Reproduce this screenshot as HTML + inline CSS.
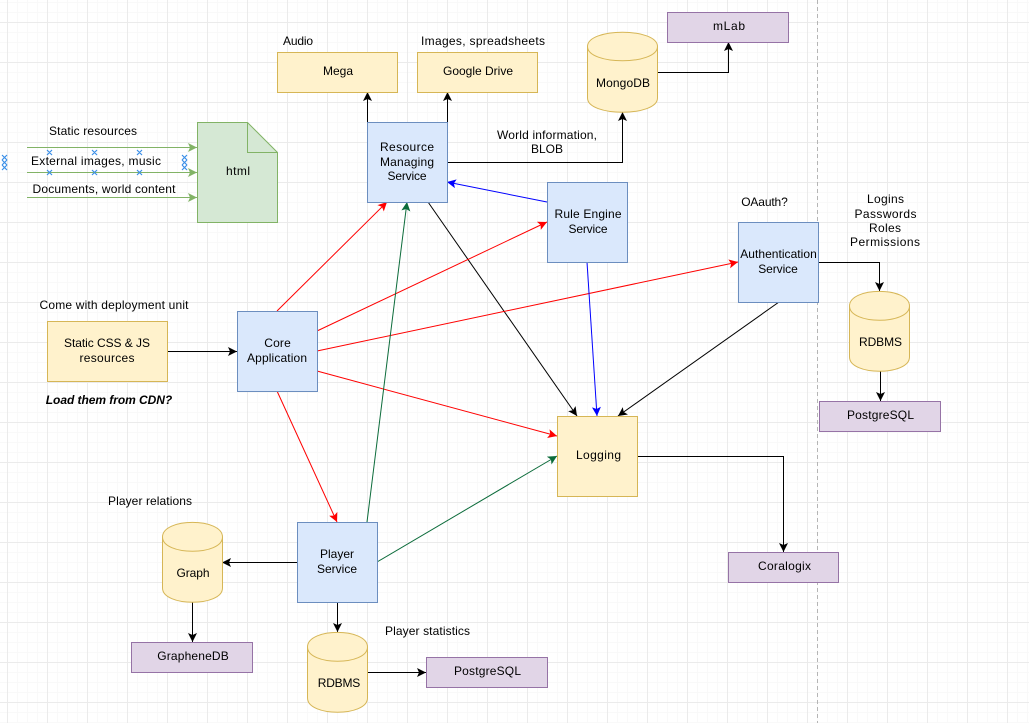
<!DOCTYPE html>
<html><head><meta charset="utf-8"><style>
html,body{margin:0;padding:0;background:#fff}
svg{display:block}
text{font-family:"Liberation Sans",sans-serif;font-size:12px;fill:#000;text-anchor:middle}
.l{stroke:#000;fill:none;stroke-width:1}
.y{fill:#fff2cc;stroke:#d6b656}
.b{fill:#dae8fc;stroke:#6c8ebf}
.p{fill:#e1d5e7;stroke:#9673a6}
.g{fill:#d5e8d4;stroke:#82b366}
</style></head><body>
<svg width="1029" height="723" viewBox="0 0 1029 723" xmlns="http://www.w3.org/2000/svg">
<defs>
<pattern id="min" width="10" height="10" patternUnits="userSpaceOnUse" x="7" y="2"><path d="M.5 0V10M0 .5H10" stroke="#f9f9f9" stroke-width="1" fill="none"/></pattern>
<pattern id="maj" width="40" height="40" patternUnits="userSpaceOnUse" x="7" y="22"><path d="M.5 0V40M0 .5H40" stroke="#ebebeb" stroke-width="1" fill="none"/></pattern>
<marker id="k" markerUnits="userSpaceOnUse" markerWidth="12" markerHeight="10" refX="9" refY="4.5" orient="auto"><path d="M0 0L9 4.5L0 9L2 4.5Z" fill="#000"/></marker>
<marker id="r" markerUnits="userSpaceOnUse" markerWidth="12" markerHeight="10" refX="9" refY="4.5" orient="auto"><path d="M0 0L9 4.5L0 9L2 4.5Z" fill="#f00"/></marker>
<marker id="u" markerUnits="userSpaceOnUse" markerWidth="12" markerHeight="10" refX="9" refY="4.5" orient="auto"><path d="M0 0L9 4.5L0 9L2 4.5Z" fill="#00f"/></marker>
<marker id="d" markerUnits="userSpaceOnUse" markerWidth="12" markerHeight="10" refX="9" refY="4.5" orient="auto"><path d="M0 0L9 4.5L0 9L2 4.5Z" fill="#0b6b3a"/></marker>
<marker id="n" markerUnits="userSpaceOnUse" markerWidth="12" markerHeight="10" refX="9" refY="4.5" orient="auto"><path d="M0 0L9 4.5L0 9L2 4.5Z" fill="#82b366"/></marker>
</defs>
<rect width="1029" height="723" fill="#fff"/>
<rect width="1029" height="723" fill="url(#min)"/>
<rect width="1029" height="723" fill="url(#maj)"/>
<path d="M817.5 0V723" stroke="#b5b5b5" stroke-dasharray="4 3" fill="none"/>

<!-- html doc -->
<g stroke="#82b366" stroke-width="1" fill="none">
<path d="M27 147.5H197" marker-end="url(#n)"/>
<path d="M27 172.5H197" marker-end="url(#n)"/>
<path d="M27 197.5H197" marker-end="url(#n)"/>
</g>
<path class="g" d="M197.5 122.5H247.5L277.5 152.5V222.5H197.5Z"/>
<path d="M247.5 122.5V152.5H277.5" fill="none" stroke="#82b366"/>
<text x="238" y="175" textLength="24">html</text>
<text x="93" y="135" textLength="88">Static resources</text>
<text x="96" y="165" textLength="130">External images, music</text>
<text x="104" y="193" textLength="143">Documents, world content</text>
<g stroke="#3a8fe8" stroke-width="1.2" fill="none">
<path d="M47 150l5 5m0-5l-5 5M92 150l5 5m0-5l-5 5M137 150l5 5m0-5l-5 5"/>
<path d="M47 170l5 5m0-5l-5 5M92 170l5 5m0-5l-5 5M137 170l5 5m0-5l-5 5"/>
<path d="M2 155l5 5m0-5l-5 5M2 160l5 5m0-5l-5 5M2 165l5 5m0-5l-5 5"/>
<path d="M182 155l5 5m0-5l-5 5M182 160l5 5m0-5l-5 5M182 165l5 5m0-5l-5 5"/>
</g>

<!-- connectors -->
<path class="l" d="M367.5 122V92" marker-end="url(#k)"/>
<path class="l" d="M447.5 122V92" marker-end="url(#k)"/>
<path class="l" d="M447 162.5H622.5V112" marker-end="url(#k)"/>
<path class="l" d="M657 72.5H728.5V42" marker-end="url(#k)"/>
<path class="l" d="M167 351.5H237" marker-end="url(#k)"/>
<path class="l" d="M818 262.5H879.5V291" marker-end="url(#k)"/>
<path class="l" d="M880.5 371V401" marker-end="url(#k)"/>
<path class="l" d="M428 202L577 416" marker-end="url(#k)"/>
<path class="l" d="M779 302L618 416" marker-end="url(#k)"/>
<path class="l" d="M637 456.5H783.5V552" marker-end="url(#k)"/>
<path class="l" d="M297 562.5H222" marker-end="url(#k)"/>
<path class="l" d="M192.5 602V642" marker-end="url(#k)"/>
<path class="l" d="M337.5 602V632" marker-end="url(#k)"/>
<path class="l" d="M367 672.5H426" marker-end="url(#k)"/>
<g fill="none" stroke-width="1">
<path stroke="#f00" d="M277 311L387 202" marker-end="url(#r)"/>
<path stroke="#f00" d="M317 331L547 222" marker-end="url(#r)"/>
<path stroke="#f00" d="M317 351L738 262" marker-end="url(#r)"/>
<path stroke="#f00" d="M317 371L557 436" marker-end="url(#r)"/>
<path stroke="#f00" d="M277 391L337 522" marker-end="url(#r)"/>
<path stroke="#00f" d="M547 202L447 182" marker-end="url(#u)"/>
<path stroke="#00f" d="M587 262L597 416" marker-end="url(#u)"/>
<path stroke="#0b6b3a" d="M367 522L407 202" marker-end="url(#d)"/>
<path stroke="#0b6b3a" d="M377 562L557 456" marker-end="url(#d)"/>
</g>

<!-- yellow rects -->
<rect class="y" x="277.5" y="52.5" width="120" height="40"/><text x="338" y="75" textLength="30">Mega</text>
<rect class="y" x="417.5" y="52.5" width="120" height="40"/><text x="478" y="75" textLength="70">Google Drive</text>
<rect class="y" x="47.5" y="321.5" width="120" height="60"/><text x="107" y="347" textLength="86">Static CSS &amp; JS</text><text x="107" y="362" textLength="55">resources</text>
<rect class="y" x="557.5" y="416.5" width="80" height="80"/><text x="598.5" y="459" textLength="45">Logging</text>

<!-- blue rects -->
<rect class="b" x="367.5" y="122.5" width="80" height="80"/><text x="407" y="151" textLength="54">Resource</text><text x="407" y="166" textLength="54">Managing</text><text x="407" y="180" textLength="39">Service</text>
<rect class="b" x="547.5" y="182.5" width="80" height="80"/><text x="588" y="218" textLength="67">Rule Engine</text><text x="588" y="233" textLength="39">Service</text>
<rect class="b" x="738.5" y="222.5" width="80" height="80"/><text x="778.5" y="258" textLength="76.5">Authentication</text><text x="778" y="273" textLength="39.5">Service</text>
<rect class="b" x="237.5" y="311.5" width="80" height="80"/><text x="277.5" y="347" textLength="26.5">Core</text><text x="277" y="362" textLength="60">Application</text>
<rect class="b" x="297.5" y="522.5" width="80" height="80"/><text x="337" y="558" textLength="34">Player</text><text x="337" y="573" textLength="40">Service</text>

<!-- purple -->
<rect class="p" x="667.5" y="12.5" width="121" height="30"/><text x="729" y="30" textLength="32">mLab</text>
<rect class="p" x="819.5" y="401.5" width="121" height="30"/><text x="880.5" y="419" textLength="67">PostgreSQL</text>
<rect class="p" x="728.5" y="552.5" width="110" height="30"/><text x="784.5" y="570" textLength="53">Coralogix</text>
<rect class="p" x="131.5" y="642.5" width="121" height="30"/><text x="193" y="660" textLength="71.5">GrapheneDB</text>
<rect class="p" x="426.5" y="657.5" width="121" height="30"/><text x="487.5" y="675" textLength="67">PostgreSQL</text>

<!-- cylinders -->
<path class="y" d="M587.5 46.5C587.5 27.5 657.5 27.5 657.5 46.5V98C657.5 117 587.5 117 587.5 98Z"/><path d="M587.5 46.5C587.5 65.5 657.5 65.5 657.5 46.5" fill="none" stroke="#d6b656"/><text x="623" y="87" textLength="54">MongoDB</text>
<path class="y" d="M849.5 306C849.5 286.5 909.5 286.5 909.5 306V357C909.5 376 849.5 376 849.5 357Z"/><path d="M849.5 306C849.5 325 909.5 325 909.5 306" fill="none" stroke="#d6b656"/><text x="880.5" y="346" textLength="43">RDBMS</text>
<path class="y" d="M162.5 537C162.5 517.5 222.5 517.5 222.5 537V588C222.5 607 162.5 607 162.5 588Z"/><path d="M162.5 537C162.5 556 222.5 556 222.5 537" fill="none" stroke="#d6b656"/><text x="193" y="577" textLength="33">Graph</text>
<path class="y" d="M307.5 647C307.5 627.5 367.5 627.5 367.5 647V698C367.5 717 307.5 717 307.5 698Z"/><path d="M307.5 647C307.5 666 367.5 666 367.5 647" fill="none" stroke="#d6b656"/><text x="339" y="687" textLength="42.5">RDBMS</text>

<!-- labels -->
<text x="298" y="45" textLength="30">Audio</text>
<text x="483" y="45" textLength="124">Images, spreadsheets</text>
<text x="547" y="139" textLength="100">World information,</text>
<text x="547" y="153" textLength="32">BLOB</text>
<text x="764.5" y="206" textLength="46.5">OAauth?</text>
<text x="885.5" y="203" textLength="37">Logins</text>
<text x="885.5" y="218" textLength="62">Passwords</text>
<text x="885" y="232" textLength="32">Roles</text>
<text x="885" y="246" textLength="70">Permissions</text>
<text x="114" y="309" textLength="149">Come with deployment unit</text>
<text x="109" y="404" textLength="126.5" style="font-weight:bold;font-style:italic">Load them from CDN?</text>
<text x="150" y="505" textLength="84">Player relations</text>
<text x="427.5" y="635" textLength="85">Player statistics</text>
</svg>
</body></html>
